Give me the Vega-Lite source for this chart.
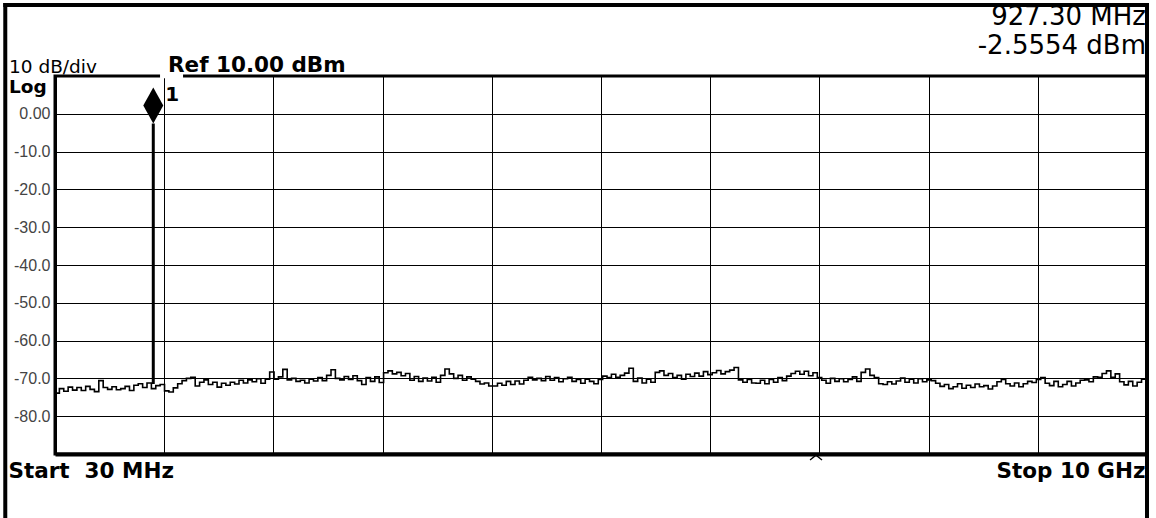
{
  "$schema": "https://vega.github.io/schema/vega-lite/v6.json",
  "width": 1092,
  "height": 378,
  "autosize": {"type": "none"},
  "padding": {"left": 55, "top": 76, "right": 9, "bottom": 64},
  "background": "white",
  "datasets": {
    "trace": [
      {"freq":30,"dbm":-73.9},{"freq":70,"dbm":-72.7},{"freq":110,"dbm":-73.4},{"freq":150,"dbm":-72.3},{"freq":190,"dbm":-73.1},{"freq":230,"dbm":-72.4},{"freq":270,"dbm":-73.2},{"freq":310,"dbm":-72.1},{"freq":350,"dbm":-72.9},{"freq":390,"dbm":-73.5},
      {"freq":430,"dbm":-70.6},{"freq":470,"dbm":-72.4},{"freq":510,"dbm":-72.9},{"freq":550,"dbm":-72.2},{"freq":590,"dbm":-73.0},{"freq":630,"dbm":-72.7},{"freq":670,"dbm":-72.1},{"freq":710,"dbm":-73.2},{"freq":750,"dbm":-71.8},{"freq":790,"dbm":-71.4},
      {"freq":830,"dbm":-72.4},{"freq":870,"dbm":-71.2},{"freq":910,"dbm":-72.7},{"freq":950,"dbm":-71.9},{"freq":990,"dbm":-71.6},{"freq":1030,"dbm":-73.3},{"freq":1070,"dbm":-73.6},{"freq":1110,"dbm":-72.5},{"freq":1150,"dbm":-71.4},{"freq":1190,"dbm":-70.6},
      {"freq":1230,"dbm":-70.0},{"freq":1270,"dbm":-69.7},{"freq":1310,"dbm":-72.0},{"freq":1350,"dbm":-71.0},{"freq":1390,"dbm":-70.4},{"freq":1430,"dbm":-71.6},{"freq":1470,"dbm":-71.0},{"freq":1510,"dbm":-72.3},{"freq":1550,"dbm":-71.3},{"freq":1590,"dbm":-71.8},
      {"freq":1630,"dbm":-71.0},{"freq":1670,"dbm":-71.5},{"freq":1710,"dbm":-70.5},{"freq":1750,"dbm":-71.2},{"freq":1790,"dbm":-70.4},{"freq":1830,"dbm":-70.9},{"freq":1870,"dbm":-70.1},{"freq":1910,"dbm":-71.3},{"freq":1950,"dbm":-70.2},{"freq":1990,"dbm":-68.3},
      {"freq":2030,"dbm":-70.2},{"freq":2070,"dbm":-69.6},{"freq":2110,"dbm":-67.6},{"freq":2150,"dbm":-70.4},{"freq":2190,"dbm":-70.0},{"freq":2230,"dbm":-70.8},{"freq":2270,"dbm":-70.5},{"freq":2310,"dbm":-71.2},{"freq":2350,"dbm":-70.2},{"freq":2390,"dbm":-70.7},
      {"freq":2430,"dbm":-69.8},{"freq":2470,"dbm":-70.6},{"freq":2510,"dbm":-69.2},{"freq":2550,"dbm":-67.7},{"freq":2590,"dbm":-70.0},{"freq":2630,"dbm":-70.4},{"freq":2670,"dbm":-69.5},{"freq":2710,"dbm":-70.3},{"freq":2750,"dbm":-69.3},{"freq":2790,"dbm":-70.6},
      {"freq":2830,"dbm":-71.6},{"freq":2870,"dbm":-69.8},{"freq":2910,"dbm":-70.8},{"freq":2950,"dbm":-69.6},{"freq":2990,"dbm":-71.1},{"freq":3030,"dbm":-68.5},{"freq":3070,"dbm":-68.0},{"freq":3110,"dbm":-68.8},{"freq":3150,"dbm":-68.4},{"freq":3190,"dbm":-69.3},
      {"freq":3230,"dbm":-68.7},{"freq":3270,"dbm":-70.5},{"freq":3310,"dbm":-69.5},{"freq":3350,"dbm":-70.8},{"freq":3390,"dbm":-69.9},{"freq":3430,"dbm":-70.7},{"freq":3470,"dbm":-69.7},{"freq":3510,"dbm":-71.0},{"freq":3550,"dbm":-69.2},{"freq":3590,"dbm":-67.5},
      {"freq":3630,"dbm":-68.8},{"freq":3670,"dbm":-70.0},{"freq":3710,"dbm":-69.2},{"freq":3750,"dbm":-70.5},{"freq":3790,"dbm":-69.6},{"freq":3830,"dbm":-70.2},{"freq":3870,"dbm":-70.8},{"freq":3910,"dbm":-71.5},{"freq":3950,"dbm":-71.2},{"freq":3990,"dbm":-72.0},
      {"freq":4030,"dbm":-72.0},{"freq":4070,"dbm":-71.3},{"freq":4110,"dbm":-71.8},{"freq":4150,"dbm":-70.8},{"freq":4190,"dbm":-71.6},{"freq":4230,"dbm":-70.7},{"freq":4270,"dbm":-71.5},{"freq":4310,"dbm":-70.5},{"freq":4350,"dbm":-69.7},{"freq":4390,"dbm":-70.4},
      {"freq":4430,"dbm":-70.0},{"freq":4470,"dbm":-70.6},{"freq":4510,"dbm":-69.5},{"freq":4550,"dbm":-70.5},{"freq":4590,"dbm":-69.8},{"freq":4630,"dbm":-70.9},{"freq":4670,"dbm":-70.1},{"freq":4710,"dbm":-69.7},{"freq":4750,"dbm":-70.8},{"freq":4790,"dbm":-70.3},
      {"freq":4830,"dbm":-71.3},{"freq":4870,"dbm":-70.2},{"freq":4910,"dbm":-70.8},{"freq":4950,"dbm":-71.4},{"freq":4990,"dbm":-70.3},{"freq":5030,"dbm":-69.4},{"freq":5070,"dbm":-69.8},{"freq":5110,"dbm":-68.9},{"freq":5150,"dbm":-69.7},{"freq":5190,"dbm":-69.2},
      {"freq":5230,"dbm":-68.6},{"freq":5270,"dbm":-67.3},{"freq":5310,"dbm":-70.8},{"freq":5350,"dbm":-69.9},{"freq":5390,"dbm":-71.2},{"freq":5430,"dbm":-70.2},{"freq":5470,"dbm":-71.0},{"freq":5510,"dbm":-68.4},{"freq":5550,"dbm":-68.0},{"freq":5590,"dbm":-69.2},
      {"freq":5630,"dbm":-68.7},{"freq":5670,"dbm":-69.8},{"freq":5710,"dbm":-69.2},{"freq":5750,"dbm":-70.2},{"freq":5790,"dbm":-68.9},{"freq":5830,"dbm":-69.5},{"freq":5870,"dbm":-68.6},{"freq":5910,"dbm":-69.4},{"freq":5950,"dbm":-68.2},{"freq":5990,"dbm":-69.0},
      {"freq":6030,"dbm":-68.5},{"freq":6070,"dbm":-67.9},{"freq":6110,"dbm":-68.8},{"freq":6150,"dbm":-68.2},{"freq":6190,"dbm":-67.8},{"freq":6230,"dbm":-67.1},{"freq":6270,"dbm":-70.4},{"freq":6310,"dbm":-71.0},{"freq":6350,"dbm":-70.3},{"freq":6390,"dbm":-71.2},
      {"freq":6430,"dbm":-71.3},{"freq":6470,"dbm":-70.5},{"freq":6510,"dbm":-71.4},{"freq":6550,"dbm":-70.3},{"freq":6590,"dbm":-71.0},{"freq":6630,"dbm":-69.8},{"freq":6670,"dbm":-70.6},{"freq":6710,"dbm":-69.4},{"freq":6750,"dbm":-68.7},{"freq":6790,"dbm":-68.1},
      {"freq":6830,"dbm":-68.9},{"freq":6870,"dbm":-68.1},{"freq":6910,"dbm":-69.3},{"freq":6950,"dbm":-68.5},{"freq":6990,"dbm":-69.8},{"freq":7030,"dbm":-70.5},{"freq":7070,"dbm":-71.3},{"freq":7110,"dbm":-70.0},{"freq":7150,"dbm":-70.8},{"freq":7190,"dbm":-70.1},
      {"freq":7230,"dbm":-70.9},{"freq":7270,"dbm":-70.3},{"freq":7310,"dbm":-69.6},{"freq":7350,"dbm":-70.8},{"freq":7390,"dbm":-68.4},{"freq":7430,"dbm":-67.5},{"freq":7470,"dbm":-69.2},{"freq":7510,"dbm":-69.8},{"freq":7550,"dbm":-71.4},{"freq":7590,"dbm":-71.6},
      {"freq":7630,"dbm":-70.9},{"freq":7670,"dbm":-71.5},{"freq":7710,"dbm":-70.7},{"freq":7750,"dbm":-69.9},{"freq":7790,"dbm":-71.0},{"freq":7830,"dbm":-70.2},{"freq":7870,"dbm":-71.2},{"freq":7910,"dbm":-70.1},{"freq":7950,"dbm":-70.9},{"freq":7990,"dbm":-70.4},
      {"freq":8030,"dbm":-70.6},{"freq":8070,"dbm":-71.3},{"freq":8110,"dbm":-72.1},{"freq":8150,"dbm":-71.6},{"freq":8190,"dbm":-72.7},{"freq":8230,"dbm":-72.2},{"freq":8270,"dbm":-71.4},{"freq":8310,"dbm":-72.6},{"freq":8350,"dbm":-71.8},{"freq":8390,"dbm":-72.4},
      {"freq":8430,"dbm":-71.5},{"freq":8470,"dbm":-72.2},{"freq":8510,"dbm":-71.9},{"freq":8550,"dbm":-72.8},{"freq":8590,"dbm":-72.0},{"freq":8630,"dbm":-70.9},{"freq":8670,"dbm":-70.3},{"freq":8710,"dbm":-71.4},{"freq":8750,"dbm":-72.0},{"freq":8790,"dbm":-71.2},
      {"freq":8830,"dbm":-72.2},{"freq":8870,"dbm":-71.4},{"freq":8910,"dbm":-70.8},{"freq":8950,"dbm":-71.1},{"freq":8990,"dbm":-70.3},{"freq":9030,"dbm":-69.8},{"freq":9070,"dbm":-71.3},{"freq":9110,"dbm":-71.9},{"freq":9150,"dbm":-70.8},{"freq":9190,"dbm":-72.2},
      {"freq":9230,"dbm":-71.6},{"freq":9270,"dbm":-70.8},{"freq":9310,"dbm":-72.0},{"freq":9350,"dbm":-71.2},{"freq":9390,"dbm":-70.5},{"freq":9430,"dbm":-70.4},{"freq":9470,"dbm":-70.9},{"freq":9510,"dbm":-69.6},{"freq":9550,"dbm":-69.7},{"freq":9590,"dbm":-68.7},
      {"freq":9630,"dbm":-68.0},{"freq":9670,"dbm":-69.7},{"freq":9710,"dbm":-68.8},{"freq":9750,"dbm":-70.9},{"freq":9790,"dbm":-71.7},{"freq":9830,"dbm":-70.8},{"freq":9870,"dbm":-72.0},{"freq":9910,"dbm":-71.0},{"freq":9950,"dbm":-70.2},{"freq":9990,"dbm":-71.3},
      {"freq":10000,"dbm":-71.3}
    ],
    "marker": [
      {"freq": 927.3, "dbm": -2.5554, "floor": -71.5, "label": "1"}
    ]
  },
  "layer": [
    {
      "data": {"name": "trace"},
      "mark": {"type": "line", "interpolate": "step-after", "color": "black", "strokeWidth": 1.6},
      "encoding": {
        "x": {
          "field": "freq", "type": "quantitative",
          "scale": {"domain": [30, 10000], "nice": false, "zero": false},
          "axis": {
            "title": null, "orient": "bottom",
            "values": [30, 1027, 2024, 3021, 4018, 5015, 6012, 7009, 8006, 9003, 10000],
            "grid": true, "gridColor": "black", "gridWidth": 1, "gridOpacity": 1,
            "ticks": false, "domain": true, "domainColor": "black", "domainWidth": 4,
            "labelExpr": "datum.value == 30 ? 'Start\u00a0 30 MHz' : (datum.value == 10000 ? 'Stop 10 GHz' : '')",
            "labelAlign": {"condition": {"test": "datum.value == 30", "value": "left"}, "value": "right"},
            "labelOffset": {"condition": {"test": "datum.value == 30", "value": -47}, "value": -2},
            "labelFont": "DejaVu Sans", "labelFontWeight": "bold", "labelFontSize": 21.5, "labelColor": "black",
            "labelPadding": 6, "labelFlush": false, "labelOverlap": false, "labelBound": false, "labelBaseline": "top"
          }
        },
        "y": {
          "field": "dbm", "type": "quantitative",
          "scale": {"domain": [-90, 10], "nice": false, "zero": false},
          "axis": {
            "title": null,
            "values": [0, -10, -20, -30, -40, -50, -60, -70, -80],
            "grid": true, "gridColor": "black", "gridWidth": 1, "gridOpacity": 1,
            "ticks": false, "domain": true, "domainColor": "black", "domainWidth": 3,
            "labelExpr": "datum.value == 0 ? '0.00' : datum.value + '.0'",
            "labelFont": "Liberation Sans", "labelFontSize": 16, "labelColor": "#444", "labelPadding": 5
          }
        }
      }
    },
    {
      "data": {"name": "marker"},
      "mark": {"type": "rule", "color": "black", "strokeWidth": 3},
      "encoding": {
        "x": {"field": "freq", "type": "quantitative", "title": null},
        "y": {"field": "dbm", "type": "quantitative", "title": null},
        "y2": {"field": "floor"}
      }
    },
    {
      "data": {"name": "marker"},
      "mark": {"type": "point", "shape": "M0,-2L0.556,-1L0,0L-0.556,-1Z", "size": 1296, "filled": true, "color": "black", "opacity": 1},
      "encoding": {
        "x": {"field": "freq", "type": "quantitative", "title": null},
        "y": {"field": "dbm", "type": "quantitative", "title": null}
      }
    },
    {
      "data": {"name": "marker"},
      "mark": {"type": "text", "align": "left", "baseline": "alphabetic", "dx": 12, "dy": -22, "font": "DejaVu Sans", "fontSize": 20, "fontWeight": "bold", "color": "black"},
      "encoding": {
        "x": {"field": "freq", "type": "quantitative", "title": null},
        "y": {"field": "dbm", "type": "quantitative", "title": null},
        "text": {"field": "label"}
      }
    },
    {
      "data": {"name": "marker"},
      "mark": {"type": "rect", "color": "white"},
      "encoding": {
        "x": {"datum": 989, "type": "quantitative"},
        "x2": {"datum": 1199},
        "y": {"datum": 10.6, "type": "quantitative"},
        "y2": {"datum": 9.4}
      }
    },
    {
      "data": {"name": "marker"},
      "mark": {"type": "rule", "color": "black", "strokeWidth": 4, "strokeCap": "square"},
      "encoding": {
        "x": {"datum": -424, "type": "quantitative"},
        "y": {"datum": 28.8, "type": "quantitative"},
        "y2": {"datum": -108}
      }
    },
    {
      "data": {"name": "marker"},
      "mark": {"type": "rule", "color": "black", "strokeWidth": 4, "strokeCap": "square"},
      "encoding": {
        "x": {"datum": -424, "type": "quantitative"},
        "x2": {"datum": 10000},
        "y": {"datum": 28.8, "type": "quantitative"}
      }
    },
    {
      "data": {"name": "marker"},
      "mark": {"type": "rule", "color": "black", "strokeWidth": 4, "strokeCap": "square"},
      "encoding": {
        "x": {"datum": 10000, "type": "quantitative"},
        "y": {"datum": 28.8, "type": "quantitative"},
        "y2": {"datum": -108}
      }
    },
    {
      "data": {"name": "marker"},
      "mark": {"type": "text", "text": "10 dB/div", "align": "left", "baseline": "alphabetic", "dx": -46, "dy": -3.5, "font": "DejaVu Sans", "fontSize": 18.5, "color": "black"},
      "encoding": {
        "x": {"datum": 30, "type": "quantitative"},
        "y": {"datum": 10, "type": "quantitative"}
      }
    },
    {
      "data": {"name": "marker"},
      "mark": {"type": "text", "text": "Ref 10.00 dBm", "align": "left", "baseline": "alphabetic", "dx": 113, "dy": -4.5, "font": "DejaVu Sans", "fontSize": 21.5, "fontWeight": "bold", "color": "black"},
      "encoding": {
        "x": {"datum": 30, "type": "quantitative"},
        "y": {"datum": 10, "type": "quantitative"}
      }
    },
    {
      "data": {"name": "marker"},
      "mark": {"type": "text", "text": "Log", "align": "left", "baseline": "alphabetic", "dx": -46, "dy": 17, "font": "DejaVu Sans", "fontSize": 18.5, "fontWeight": "bold", "color": "black"},
      "encoding": {
        "x": {"datum": 30, "type": "quantitative"},
        "y": {"datum": 10, "type": "quantitative"}
      }
    },
    {
      "data": {"name": "marker"},
      "mark": {"type": "text", "text": "927.30 MHz", "align": "right", "baseline": "alphabetic", "dx": -1, "dy": -51, "font": "DejaVu Sans", "fontSize": 26, "color": "black"},
      "encoding": {
        "x": {"datum": 10000, "type": "quantitative"},
        "y": {"datum": 10, "type": "quantitative"}
      }
    },
    {
      "data": {"name": "marker"},
      "mark": {"type": "text", "text": "-2.5554 dBm", "align": "right", "baseline": "alphabetic", "dx": -1, "dy": -22.5, "font": "DejaVu Sans", "fontSize": 26, "color": "black"},
      "encoding": {
        "x": {"datum": 10000, "type": "quantitative"},
        "y": {"datum": 10, "type": "quantitative"}
      }
    },
    {
      "data": {"name": "marker"},
      "mark": {"type": "point", "shape": "M-1,0.8L0,0L1,0.8", "size": 144, "filled": false, "stroke": "black", "strokeWidth": 1.3, "opacity": 1},
      "encoding": {
        "x": {"datum": 6978, "type": "quantitative"},
        "y": {"datum": -90.3, "type": "quantitative"}
      }
    }
  ],
  "config": {
    "view": {"stroke": "black", "strokeWidth": 3}
  }
}
